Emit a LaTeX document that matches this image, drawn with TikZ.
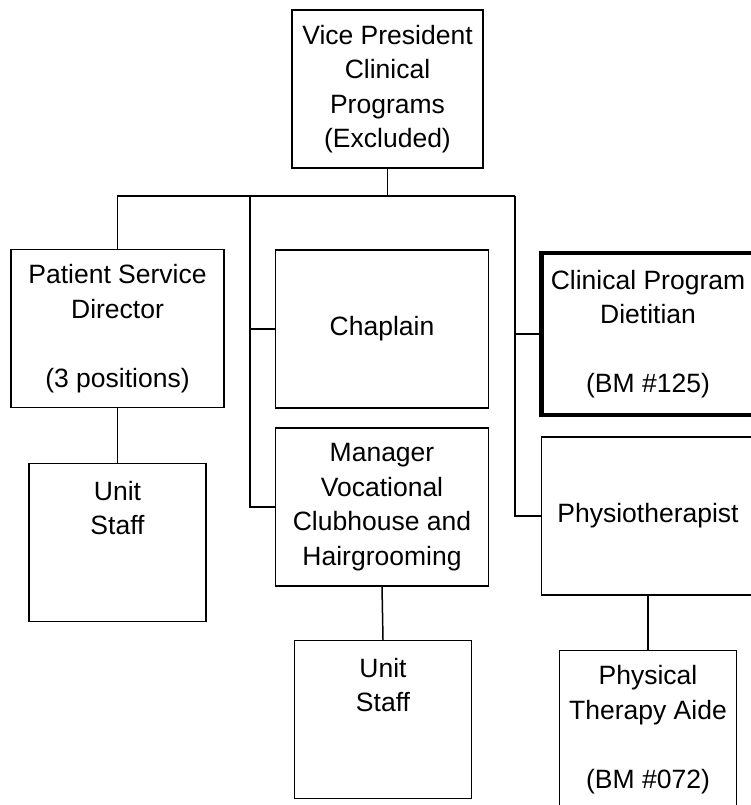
\documentclass[tikz,border=0pt]{standalone}
\usepackage{fontspec}
\setmainfont{Liberation Sans}
\usetikzlibrary{calc}

\begin{document}
\begin{tikzpicture}[x=1pt,y=-1pt,
	box/.style={draw, line width=1.5pt, align=center, inner sep=0pt,
		minimum width=213pt, minimum height=158pt,
		font=\fontsize{26.5}{34.5}\selectfont},
	staffbox/.style={box, minimum width=177pt},
	keybox/.style={box, line width=4.5pt, minimum height=162pt},
	link/.style={line width=1.5pt}
	]
	\useasboundingbox (0,0) rectangle (751,805);
	\clip (0,0) rectangle (751,805);

	% top
	\node[box, minimum width=191pt] (vp) at (387.5,89) {Vice President\\Clinical\\Programs\\(Excluded)};

	% left column
	\node[box] (psd) at (117.5,328.5) {Patient Service\\Director\\\mbox{}\\(3 positions)};
	\node[staffbox] (staffA) at (117.5,542.5) {Unit\\Staff\\\mbox{}\\\mbox{}};

	% middle column
	\node[box] (chap) at (382,329) {Chaplain};
	\node[box] (mgr) at (382,507) {Manager\\Vocational\\Clubhouse and\\Hairgrooming};
	\node[staffbox] (staffB) at (383,719.5) {Unit\\Staff\\\mbox{}\\\mbox{}};

	% right column
	\node[keybox] (diet) at (648,334) {Clinical Program\\Dietitian\\\mbox{}\\(BM \#125)};
	\node[box] (physio) at (648,516) {Physiotherapist};
	\node[staffbox] (pta) at (648,729.5) {Physical\\Therapy Aide\\\mbox{}\\(BM \#072)};

	% connectors
	\coordinate (ltrunk) at (250,196);
	\coordinate (rtrunk) at (515,196);
	\coordinate (hub) at (vp.south |- ltrunk);
	\draw[link] (vp.south) -- (hub);
	\draw[link] (psd.north) |- (hub) -- (rtrunk);
	\draw[link] (ltrunk) |- (mgr.west);
	\draw[link] (ltrunk |- chap.west) -- (chap.west);
	\draw[link] (rtrunk) |- (physio.west);
	\draw[link] (rtrunk |- diet.west) -- (diet.west);
	\draw[link] (psd.south) -- (staffA.north);
	\draw[link] (mgr.south) -- (staffB.north);
	\draw[link] (physio.south) -- (pta.north);
\end{tikzpicture}
\end{document}
